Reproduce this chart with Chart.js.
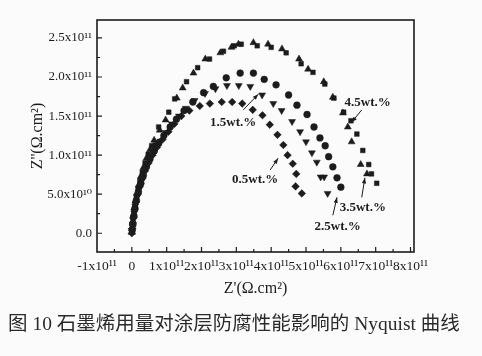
<!DOCTYPE html>
<html>
<head>
<meta charset="utf-8">
<script src="https://cdn.jsdelivr.net/npm/chart.js@4.4.0/dist/chart.umd.min.js"></script>
<style>
  html, body { margin: 0; padding: 0; background: #fbfbfb; }
  #wrap { width: 482px; height: 356px; position: relative; }
</style>
</head>
<body>
<div id="wrap"><canvas id="nyquist" width="482" height="356"></canvas></div>
<script>
// values in units of 10^11 ohm.cm2, [Z', Z'']
const wt05 = [
  [0, 0], [0.01, 0.06], [0.03, 0.13], [0.05, 0.2], [0.08, 0.3], [0.12, 0.4],
  [0.17, 0.5], [0.23, 0.6], [0.3, 0.7], [0.38, 0.8], [0.48, 0.9], [0.59, 1.0],
  [0.72, 1.1], [0.88, 1.2], [1.05, 1.3], [1.22, 1.4], [1.42, 1.5], [1.65, 1.57],
  [1.95, 1.63], [2.24, 1.66], [2.58, 1.68], [2.88, 1.68], [3.17, 1.66], [3.47, 1.58],
  [3.75, 1.51], [3.96, 1.39], [4.18, 1.26], [4.35, 1.13], [4.47, 1.0], [4.62, 0.89],
  [4.72, 0.76], [4.7, 0.6], [4.88, 0.51]
];
const wt15 = [
  [0, 0.02], [0.02, 0.09], [0.04, 0.17], [0.07, 0.26], [0.1, 0.35], [0.15, 0.46],
  [0.21, 0.56], [0.28, 0.67], [0.36, 0.78], [0.45, 0.88], [0.56, 0.98], [0.68, 1.08],
  [0.82, 1.18], [0.98, 1.29], [1.15, 1.4], [1.35, 1.5], [1.55, 1.6], [1.8, 1.7],
  [2.1, 1.79], [2.4, 1.85], [2.73, 1.89], [3.07, 1.89], [3.4, 1.88], [3.74, 1.77],
  [4.06, 1.66], [4.3, 1.57], [4.6, 1.43], [4.83, 1.3], [5.0, 1.17], [5.17, 1.03],
  [5.31, 0.91], [5.42, 0.72], [5.52, 0.72], [5.62, 0.51]
];
const wt25 = [
  [0.01, 0.04], [0.03, 0.11], [0.06, 0.22], [0.09, 0.32], [0.13, 0.42], [0.19, 0.53],
  [0.26, 0.64], [0.33, 0.74], [0.42, 0.85], [0.52, 0.95], [0.64, 1.05], [0.77, 1.15],
  [0.92, 1.25], [1.1, 1.36], [1.28, 1.46], [1.5, 1.57], [1.75, 1.68], [2.06, 1.8],
  [2.34, 1.88], [2.71, 1.99], [3.11, 2.05], [3.49, 2.05], [3.8, 1.97], [4.14, 1.9],
  [4.5, 1.77], [4.74, 1.64], [5.03, 1.52], [5.23, 1.36], [5.4, 1.22], [5.55, 1.12],
  [5.65, 0.98], [5.77, 0.85], [5.89, 0.71], [6.0, 0.59]
];
const wt35 = [
  [0, 0.01], [0.01, 0.08], [0.03, 0.16], [0.05, 0.24], [0.08, 0.33], [0.11, 0.42],
  [0.15, 0.52], [0.2, 0.62], [0.26, 0.73], [0.33, 0.84], [0.42, 0.96], [0.52, 1.07],
  [0.64, 1.19], [0.8, 1.32], [0.97, 1.45], [1.29, 1.73], [1.46, 1.86], [1.77, 2.05],
  [2.11, 2.23], [2.54, 2.31], [2.86, 2.38], [3.06, 2.42], [3.49, 2.44], [3.91, 2.42],
  [4.31, 2.36], [4.8, 2.23], [5.06, 2.1], [5.51, 1.94], [5.77, 1.74], [6.06, 1.54],
  [6.2, 1.36], [6.31, 1.17], [6.57, 0.88], [6.75, 0.76]
];
const wt45 = [
  [0.01, 0.03], [0.02, 0.12], [0.04, 0.2], [0.06, 0.28], [0.09, 0.37], [0.13, 0.47],
  [0.18, 0.57], [0.23, 0.67], [0.3, 0.78], [0.38, 0.9], [0.47, 1.01], [0.57, 1.12],
  [0.67, 1.13], [0.77, 1.36], [1.06, 1.55], [1.23, 1.72], [1.57, 1.94], [1.89, 2.12],
  [2.23, 2.23], [2.63, 2.33], [2.94, 2.4], [3.14, 2.42], [3.6, 2.4], [4.0, 2.38],
  [4.43, 2.31], [4.86, 2.17], [5.2, 2.06], [5.54, 1.91], [5.8, 1.73], [6.08, 1.55],
  [6.29, 1.44], [6.46, 1.27], [6.63, 1.06], [6.8, 0.88], [6.88, 0.76], [7.03, 0.64]
];

const seriesNames = ["0.5wt.%", "1.5wt.%", "2.5wt.%", "3.5wt.%", "4.5wt.%"];

const xTicks = [-1, 0, 1, 2, 3, 4, 5, 6, 7, 8];
const xTickLabels = ["-1x10¹¹", "0", "1x10¹¹", "2x10¹¹", "3x10¹¹", "4x10¹¹", "5x10¹¹", "6x10¹¹", "7x10¹¹", "8x10¹¹"];
const yTicks = [0, 0.5, 1.0, 1.5, 2.0, 2.5];
const yTickLabels = ["0.0", "5.0x10¹⁰", "1.0x10¹¹", "1.5x10¹¹", "2.0x10¹¹", "2.5x10¹¹"];

// label text, label position, arrow tail, arrow head (data units)
const notes = [
  ["1.5wt.%", [2.91, 1.42], [3.2, 1.58], [3.63, 1.78]],
  ["0.5wt.%", [3.54, 0.69], [3.97, 0.81], [4.2, 0.96]],
  ["2.5wt.%", [5.91, 0.09], [5.77, 0.23], [5.89, 0.46]],
  ["3.5wt.%", [6.63, 0.33], [6.6, 0.46], [6.69, 0.71]],
  ["4.5wt.%", [6.77, 1.67], [6.6, 1.58], [6.31, 1.42]]
];

const caption = "图 10 石墨烯用量对涂层防腐性能影响的 Nyquist 曲线";

const ink = "#1c1c1c";
const serif = "'Liberation Serif', 'DejaVu Serif', serif";

const toPts = (arr) => arr.map((p) => ({ x: p[0], y: p[1] }));

const styles = [
  { pointStyle: "rectRot", radius: 3.8, rotation: 0 },
  { pointStyle: "triangle", radius: 4.0, rotation: 180 },
  { pointStyle: "circle", radius: 3.4, rotation: 0 },
  { pointStyle: "triangle", radius: 4.0, rotation: 0 },
  { pointStyle: "rect", radius: 3.3, rotation: 0 }
];

const datasets = [wt05, wt15, wt25, wt35, wt45].map((d, i) => ({
  label: seriesNames[i],
  data: toPts(d),
  pointStyle: styles[i].pointStyle,
  pointRadius: styles[i].radius,
  pointRotation: styles[i].rotation,
  pointBackgroundColor: ink,
  pointBorderColor: ink,
  pointBorderWidth: 0.5,
  showLine: false
}));

// frame, inward ticks, arrows, notes and caption
const decorPlugin = {
  id: "decor",
  afterDraw(chart) {
    const ctx = chart.ctx;
    const a = chart.chartArea;
    const xs = chart.scales.x;
    const ys = chart.scales.y;
    ctx.save();
    ctx.strokeStyle = ink;
    ctx.lineWidth = 1.6;
    ctx.strokeRect(a.left, a.top, a.right - a.left, a.bottom - a.top);

    ctx.lineWidth = 1.2;
    ctx.beginPath();
    for (let v = -1; v <= 8.01; v += 0.5) {
      const px = xs.getPixelForValue(v);
      if (px <= a.left + 1 || px >= a.right - 1) continue;
      const len = Number.isInteger(v) ? 5 : 3;
      ctx.moveTo(px, a.bottom);
      ctx.lineTo(px, a.bottom - len);
    }
    for (let v = -0.25; v <= 2.75; v += 0.25) {
      const py = ys.getPixelForValue(v);
      if (py <= a.top + 1 || py >= a.bottom - 1) continue;
      const len = Math.abs(v * 2 - Math.round(v * 2)) < 0.01 ? 5 : 3;
      ctx.moveTo(a.left, py);
      ctx.lineTo(a.left + len, py);
    }
    ctx.stroke();

    ctx.fillStyle = ink;
    ctx.font = "bold 13px " + serif;
    ctx.textAlign = "center";
    ctx.textBaseline = "middle";
    notes.forEach(([text, pos, tail, head]) => {
      ctx.fillText(text, xs.getPixelForValue(pos[0]), ys.getPixelForValue(pos[1]));
      const x1 = xs.getPixelForValue(tail[0]);
      const y1 = ys.getPixelForValue(tail[1]);
      const x2 = xs.getPixelForValue(head[0]);
      const y2 = ys.getPixelForValue(head[1]);
      const ang = Math.atan2(y2 - y1, x2 - x1);
      ctx.lineWidth = 1;
      ctx.beginPath();
      ctx.moveTo(x1, y1);
      ctx.lineTo(x2, y2);
      ctx.stroke();
      ctx.beginPath();
      ctx.moveTo(x2, y2);
      ctx.lineTo(x2 - 6 * Math.cos(ang - 0.35), y2 - 6 * Math.sin(ang - 0.35));
      ctx.lineTo(x2 - 6 * Math.cos(ang + 0.35), y2 - 6 * Math.sin(ang + 0.35));
      ctx.closePath();
      ctx.fill();
    });

    ctx.fillStyle = "#2a2a2a";
    ctx.font = "19.5px " + serif + ", 'Noto Sans CJK SC'";
    ctx.textAlign = "left";
    ctx.textBaseline = "middle";
    ctx.fillText(caption, 8, 325);
    ctx.restore();
  }
};

new Chart(document.getElementById("nyquist"), {
  type: "scatter",
  data: { datasets },
  options: {
    responsive: false,
    animation: false,
    layout: { padding: { left: 24, right: 68, top: 20, bottom: 54 } },
    plugins: {
      legend: { display: false },
      tooltip: { enabled: false }
    },
    scales: {
      x: {
        type: "linear",
        min: -1,
        max: 8.1,
        afterBuildTicks: (scale) => {
          scale.ticks = xTicks.map((v) => ({ value: v }));
        },
        afterFit: (scale) => { scale.height = 50; },
        grid: { display: false, drawTicks: false },
        border: { display: false },
        ticks: {
          color: ink,
          padding: 6,
          maxRotation: 0,
          autoSkip: false,
          font: { family: serif, size: 13.5 },
          callback: (v) => xTickLabels[xTicks.indexOf(v)]
        },
        title: {
          display: true,
          text: "Z'(Ω.cm²)",
          color: ink,
          padding: { top: 0 },
          font: { family: serif, size: 16 }
        }
      },
      y: {
        type: "linear",
        min: -0.24,
        max: 2.73,
        afterBuildTicks: (scale) => {
          scale.ticks = yTicks.map((v) => ({ value: v }));
        },
        afterFit: (scale) => { scale.width = 73; },
        grid: { display: false, drawTicks: false },
        border: { display: false },
        ticks: {
          color: ink,
          padding: 5,
          autoSkip: false,
          font: { family: serif, size: 13 },
          callback: (v) => yTickLabels[yTicks.indexOf(v)]
        },
        title: {
          display: true,
          text: "Z''(Ω.cm²)",
          color: ink,
          padding: { bottom: 0 },
          font: { family: serif, size: 16 }
        }
      }
    }
  },
  plugins: [decorPlugin]
});
</script>
</body>
</html>
